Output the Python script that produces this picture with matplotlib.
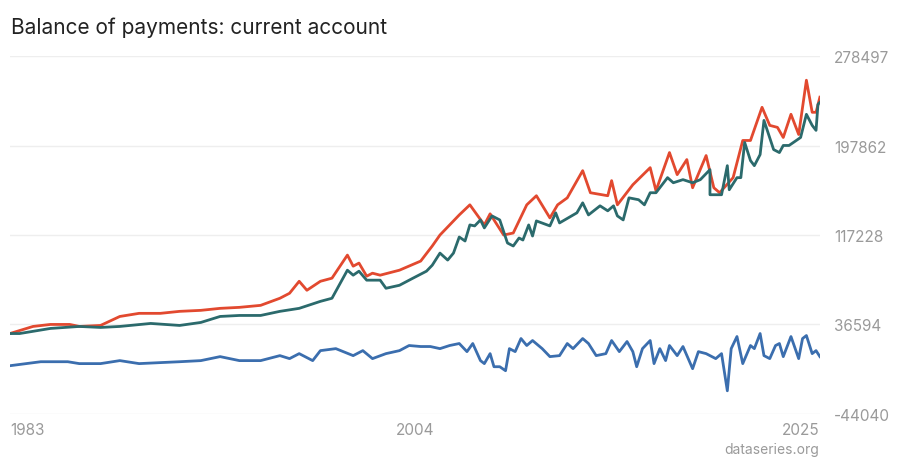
import matplotlib.pyplot as plt

# Balance of payments: current account (values in thousands)
red_years = [1983.0, 1984.2, 1985.1, 1986.1, 1986.6, 1987.7, 1988.7, 1989.7, 1990.8, 1991.8,
             1992.9, 1993.9, 1994.9, 1996.0, 1997.0, 1997.5, 1998.0, 1998.4, 1999.1, 1999.7,
             2000.5, 2000.8, 2001.1, 2001.5, 2001.8, 2002.2, 2003.2, 2004.3, 2004.9, 2005.3,
             2006.3, 2006.85, 2007.6, 2007.9, 2008.6, 2009.1, 2009.8, 2010.3, 2011.0, 2011.4,
             2011.9, 2012.7, 2013.1, 2014.0, 2014.2, 2014.5, 2015.3, 2016.2, 2016.5, 2017.2,
             2017.6, 2018.1, 2018.4, 2019.1, 2019.5, 2019.8, 2020.5, 2021.0, 2021.4, 2022.0,
             2022.4, 2022.8, 2023.1, 2023.5, 2023.9, 2024.3, 2024.6, 2024.8, 2025.0]
red_vals = [28.4, 34.8, 36.6, 36.6, 34.8, 35.7, 43.8, 46.6, 46.6, 48.4,
            49.3, 51.1, 52.0, 53.8, 60.2, 64.7, 75.5, 67.4, 75.5, 78.3,
            99.1, 89.1, 91.9, 80.1, 82.8, 81.0, 85.5, 93.7, 107.3, 117.2,
            135.3, 144.4, 126.3, 136.3, 117.2, 119.0, 144.4, 152.6, 132.6, 144.4,
            150.7, 175.2, 155.3, 152.6, 166.2, 144.4, 162.5, 177.9, 157.1, 191.5,
            171.6, 185.2, 159.8, 188.8, 159.8, 155.3, 168.9, 202.4, 202.4, 232.3,
            216.0, 214.2, 205.1, 226.0, 207.8, 256.7, 227.8, 227.8, 241.4]

teal_years = [1983.0, 1983.5, 1985.1, 1986.6, 1987.7, 1988.7, 1990.3, 1991.8, 1992.9, 1993.9,
              1994.9, 1996.0, 1997.0, 1998.0, 1999.1, 1999.7, 2000.5, 2000.8, 2001.1, 2001.5,
              2002.2, 2002.5, 2003.2, 2003.9, 2004.6, 2004.9, 2005.3, 2005.7, 2006.0, 2006.3,
              2006.6, 2006.85, 2007.1, 2007.4, 2007.6, 2008.0, 2008.4, 2008.8, 2009.1, 2009.4,
              2009.6, 2009.9, 2010.1, 2010.3, 2011.0, 2011.3, 2011.5, 2012.4, 2012.7, 2013.0,
              2013.6, 2014.0, 2014.3, 2014.5, 2014.8, 2015.1, 2015.6, 2015.9, 2016.2, 2016.5,
              2017.1, 2017.4, 2017.9, 2018.4, 2018.8, 2019.3, 2019.3, 2019.9, 2020.2, 2020.3,
              2020.7, 2020.9, 2021.1, 2021.4, 2021.6, 2021.9, 2022.1, 2022.6, 2022.9, 2023.1,
              2023.4, 2024.0, 2024.3, 2024.6, 2024.8, 2024.9, 2025.0]
teal_vals = [28.4, 28.4, 33.0, 34.8, 33.9, 34.8, 37.5, 35.7, 38.4, 43.8,
             44.7, 44.7, 48.4, 51.1, 57.4, 60.2, 85.5, 81.0, 84.6, 76.5,
             76.5, 69.2, 71.9, 78.3, 84.6, 90.0, 100.9, 94.6, 100.9, 115.4,
             111.8, 126.3, 125.4, 130.8, 123.6, 134.4, 130.8, 110.0, 107.3, 114.5,
             112.7, 126.3, 116.3, 129.9, 125.4, 137.2, 128.1, 137.2, 146.2, 135.3,
             143.5, 139.0, 143.5, 134.4, 130.8, 150.7, 149.0, 144.4, 155.3, 155.3,
             168.9, 164.3, 167.1, 164.3, 167.1, 176.1, 153.5, 153.5, 179.7, 158.0,
             168.9, 168.9, 200.6, 184.3, 179.7, 189.7, 220.5, 194.2, 191.5, 197.9,
             197.9, 205.1, 226.0, 216.0, 211.5, 235.0, 236.8]

blue_years = [1983.0, 1984.6, 1986.0, 1986.6, 1987.7, 1988.7, 1989.7, 1990.8, 1991.8, 1992.9,
              1993.9, 1994.9, 1996.0, 1997.0, 1997.5, 1998.0, 1998.7, 1999.1, 1999.9, 2000.8,
              2001.3, 2001.8, 2002.5, 2003.2, 2003.6, 2003.7, 2004.3, 2004.8, 2005.3, 2005.8,
              2006.3, 2006.7, 2007.0, 2007.4, 2007.6, 2007.9, 2008.1, 2008.4, 2008.7, 2008.9,
              2009.2, 2009.5, 2009.8, 2010.1, 2010.6, 2011.0, 2011.5, 2011.9, 2012.2, 2012.7,
              2013.0, 2013.4, 2013.9, 2014.2, 2014.6, 2015.0, 2015.3, 2015.5, 2015.8, 2016.2,
              2016.4, 2016.7, 2017.0, 2017.2, 2017.6, 2017.9, 2018.4, 2018.7, 2019.1, 2019.6,
              2019.9, 2020.2, 2020.4, 2020.7, 2021.0, 2021.4, 2021.6, 2021.9, 2022.1, 2022.4,
              2022.7, 2022.9, 2023.1, 2023.5, 2023.9, 2024.1, 2024.3, 2024.6, 2024.8, 2025.0]
blue_vals = [-0.6, 3.0, 3.0, 1.3, 1.3, 4.0, 1.3, 2.2, 3.0, 4.0,
             7.6, 4.0, 4.0, 8.5, 5.8, 10.3, 4.0, 13.0, 14.8, 8.5,
             13.0, 5.8, 10.3, 13.0, 16.7, 17.6, 16.7, 16.7, 14.8, 17.6,
             19.4, 12.1, 19.4, 4.0, 1.3, 10.3, -1.5, -1.5, -5.1, 14.8,
             12.1, 23.9, 17.6, 22.1, 14.8, 7.6, 8.5, 19.4, 14.8, 23.9,
             19.4, 8.5, 10.3, 22.1, 12.1, 21.2, 12.1, -1.5, 14.8, 22.1,
             1.3, 14.8, 4.0, 17.6, 8.5, 16.7, -3.3, 12.1, 10.3, 5.8,
             10.3, -23.2, 14.8, 25.7, 1.3, 17.6, 14.8, 28.4, 8.5, 5.8,
             17.6, 19.4, 7.6, 25.7, 5.8, 23.9, 26.6, 10.3, 13.0, 7.6]

y_ticks = [-44040, 36594, 117228, 197862, 278497]
x_ticks = [1983, 2004, 2025]

GREY = '#9a9a9a'
plt.rcParams['font.family'] = ['Inter', 'DejaVu Sans']

fig = plt.figure(figsize=(9, 4.6), dpi=100, facecolor='white')
ax = fig.add_axes([0.011, 0.098, 0.9, 0.778])

ax.plot(red_years, [v * 1000 for v in red_vals], color='#e2492f', lw=2, zorder=3)
ax.plot(teal_years, [v * 1000 for v in teal_vals], color='#2b6a6c', lw=2, zorder=4)
ax.plot(blue_years, [v * 1000 for v in blue_vals], color='#3b6eae', lw=2, zorder=3)

ax.set_xlim(1983, 2025)
ax.set_ylim(y_ticks[0], y_ticks[-1])
ax.set_yticks(y_ticks)
ax.set_yticklabels([str(t) for t in y_ticks])
ax.yaxis.tick_right()
ax.set_xticks(x_ticks)
ax.set_xticklabels([str(t) for t in x_ticks])
ax.tick_params(axis='y', length=0, pad=10, labelsize=11, labelcolor=GREY)
ax.tick_params(axis='x', length=0, pad=6, labelsize=11, labelcolor=GREY)
labels = ax.get_xticklabels()
labels[0].set_horizontalalignment('left')
labels[-1].set_horizontalalignment('right')
ax.grid(axis='y', color='#eeeeee', lw=1)
for s in ax.spines.values():
    s.set_visible(False)

fig.text(0.012, 0.94, 'Balance of payments: current account', fontsize=15, color='#222222', va='center')
fig.text(0.91, 0.022, 'dataseries.org', fontsize=10, color=GREY, ha='right', va='center')

fig.savefig('out.png', dpi=100, facecolor='white')
